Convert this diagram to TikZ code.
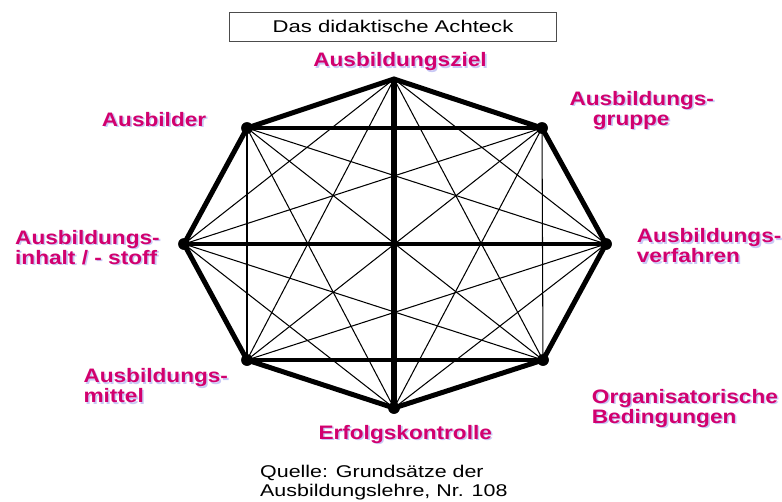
\documentclass[tikz,border=0pt]{standalone}
\usepackage{fontspec}
\setmainfont{Liberation Sans}
\newfontfamily\lblfont{Liberation Sans}[FakeStretch=1.16]
\newfontfamily\txtfont{Liberation Sans}[FakeStretch=1.3]
\newfontfamily\srcfont{Liberation Sans}[FakeStretch=1.26]
\definecolor{lblred}{RGB}{210,0,110}
\definecolor{lblshade}{RGB}{200,200,245}
\tikzset{
  lbl/.style={inner sep=0pt,text=lblred,align=left,
    font=\lblfont\bfseries\fontsize{19.5}{20}\selectfont},
  lblback/.style={lbl,text=lblshade,xshift=1.6pt,yshift=-1.6pt},
  dot/.style={circle,fill=black,inner sep=0pt,minimum size=11.5pt},
  thinline/.style={line width=1.05pt},
  thickline/.style={line width=5pt},
}
% label with its pale shadow
\newcommand\shlabel[4][]{%
  \node[lblback,#1] at (#3) {#4};
  \node[lbl,#1] (#2) at (#3) {#4};}
\begin{document}
\begin{tikzpicture}[x=1pt,y=-1pt]
  \useasboundingbox (0,0) rectangle (782,501);

  % title
  \node[draw=black!70,line width=0.9pt,minimum width=327pt,minimum height=29pt,
    inner sep=0pt,font=\txtfont\fontsize{17}{19.4}\selectfont]
    (title) at (393,26.5) {Das didaktische Achteck};

  % corners of the octagon
  \coordinate (v0) at (394,79);
  \node[dot] (v1) at (542,128) {};
  \node[dot] (v2) at (606,244) {};
  \node[dot] (v3) at (543,360) {};
  \node[dot] (v4) at (394,408) {};
  \node[dot] (v5) at (247,360) {};
  \node[dot] (v6) at (184,244) {};
  \node[dot] (v7) at (247,128) {};

  % every corner joined to every other
  \foreach \i in {0,...,6} {
    \pgfmathtruncatemacro\k{\i+1}
    \foreach \j in {\k,...,7} {
      \draw[thinline] (v\i.center) -- (v\j.center);
    }
  }

  \draw[thickline] (v0) -- (v1.center) -- (v2.center) -- (v3.center) -- (v4.center)
    -- (v5.center) -- (v6.center) -- (v7.center) -- cycle;
  \draw[line width=4pt] (v7.center) -- (v1.center);
  \draw[line width=4pt] (v5.center) -- (v3.center);
  \draw[line width=4pt] (v6.center) -- (v2.center);
  \draw[line width=6pt] (v0) -- (v4.center);
  \foreach \v in {1,...,7} {
    \node[dot] at (v\v) {};
  }

  % labels (base = baseline of the last line)
  \shlabel[anchor=base]{ziel}{400,66.7}{Ausbildungsziel}
  \shlabel[anchor=base west]{bilder}{101.7,126}{Ausbilder}
  \shlabel[anchor=base west]{gruppe}{569.3,125}{Ausbildungs-\\\hspace*{23.4pt}gruppe}
  \shlabel[anchor=base west]{verf}{636.7,262.7}{Ausbildungs-\\verfahren}
  \shlabel[anchor=base west]{inhalt}{15,264}{Ausbildungs-\\inhalt / - stoff}
  \shlabel[anchor=base west]{mittel}{83.3,402.7}{Ausbildungs-\\mittel}
  \shlabel[anchor=base west]{erfolg}{318.3,439.3}{Erfolgskontrolle}
  \shlabel[anchor=base west]{orga}{591.7,423.3}{Organisatorische\\Bedingungen}

  \node[anchor=base west,inner sep=0pt,align=left,
    font=\srcfont\fontsize{17}{19.4}\selectfont]
    (quelle) at (260,496.7) {Quelle: Grunds\"atze der\\Ausbildungslehre, Nr. 108};
\end{tikzpicture}
\end{document}
